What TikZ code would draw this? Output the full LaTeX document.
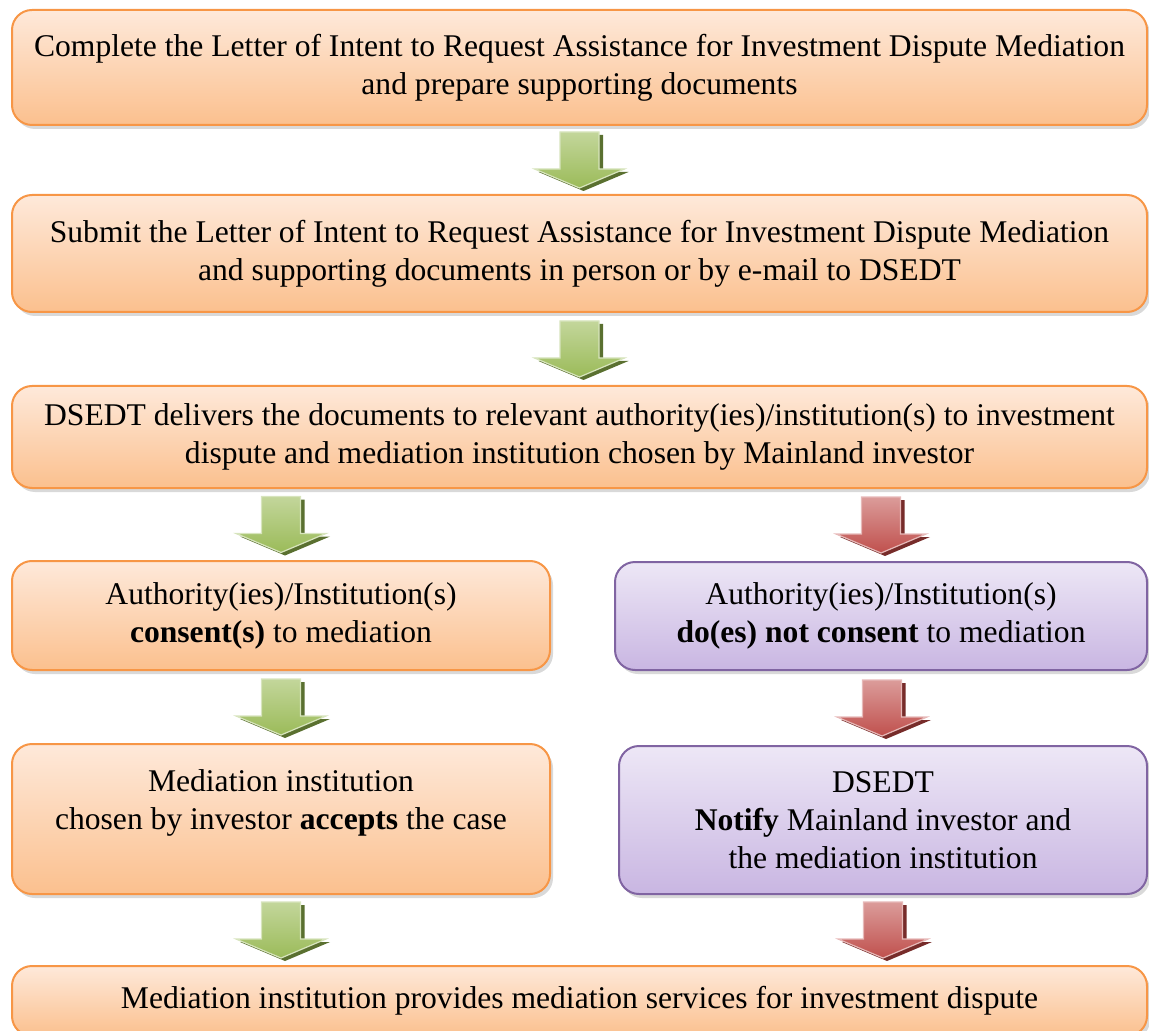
\documentclass[tikz,border=0pt]{standalone}
\usepackage{fontspec}
\setmainfont{Liberation Serif}
\usetikzlibrary{calc,shadows}

\definecolor{orangeline}{HTML}{F79646}
\definecolor{orangetop}{HTML}{FEE9DA}
\definecolor{orangebot}{HTML}{FBC08E}
\definecolor{purpleline}{HTML}{8064A2}
\definecolor{purpletop}{HTML}{EDE7F6}
\definecolor{purplebot}{HTML}{C9B6E2}
\definecolor{greentop}{HTML}{C3D69B}
\definecolor{greenbot}{HTML}{9BBB59}
\definecolor{greenedge}{HTML}{D7E4BD}
\definecolor{greenshade}{HTML}{5A7030}
\definecolor{redtop}{HTML}{DB9C9A}
\definecolor{redbot}{HTML}{C0504D}
\definecolor{rededge}{HTML}{E6B9B8}
\definecolor{redshade}{HTML}{772C2A}

\tikzset{
  stepbox/.style={rounded corners=10pt, line width=1pt, align=center, inner sep=2pt,
    font=\fontsize{15.8}{19}\selectfont,
    drop shadow={opacity=0.3, shadow xshift=1.5pt, shadow yshift=-2pt}},
  orangebox/.style={stepbox, draw=orangeline, top color=orangetop, bottom color=orangebot},
  purplebox/.style={stepbox, draw=purpleline, top color=purpletop, bottom color=purplebot},
  greenbody/.style={top color=greentop, bottom color=greenbot, draw=greenedge, line width=0.6pt},
  greendark/.style={fill=greenshade},
  redbody/.style={top color=redtop, bottom color=redbot, draw=rededge, line width=0.6pt},
  reddark/.style={fill=redshade},
  pics/blockarrow/.style={code={
    \fill[#1dark, shift={(4,3)}] (-19.5,-28) -- (19.5,-28) -- (19.5,9) -- (45,9)
      -- (0,28) -- (-45,9) -- (-19.5,9) -- cycle;
    \shade[#1body] (-19.5,-28) -- (19.5,-28) -- (19.5,9) -- (45,9)
      -- (0,28) -- (-45,9) -- (-19.5,9) -- cycle;
  }}
}

\begin{document}
\begin{tikzpicture}[x=0.5pt, y=-0.5pt]
  \useasboundingbox (0,0) rectangle (1149,1031);
  \clip (0,0) rectangle (1149,1031);
  % the common steps
  \node[orangebox, minimum width=567.5pt, minimum height=57.5pt] (complete) at (579.5,67.5)
    {Complete the Letter of Intent to Request Assistance for Investment Dispute Mediation\\and prepare supporting documents};
  \node[orangebox, minimum width=567.5pt, minimum height=58.5pt] (submit) at (579.5,253.5)
    {Submit the Letter of Intent to Request Assistance for Investment Dispute Mediation\\and supporting documents in person or by e-mail to DSEDT};
  \node[orangebox, minimum width=567.5pt, minimum height=51pt] (deliver) at (579.5,437)
    {DSEDT delivers the documents to relevant authority(ies)/institution(s) to investment\\dispute and mediation institution chosen by Mainland investor};
  % the two branches
  \node[orangebox, minimum width=269pt, minimum height=54.5pt] (consent) at (281,615.5)
    {Authority(ies)/Institution(s)\\\textbf{consent(s)} to mediation};
  \node[purplebox, minimum width=266pt, minimum height=54pt] (refuse) at (881,616)
    {Authority(ies)/Institution(s)\\\textbf{do(es) not consent} to mediation};
  \node[orangebox, minimum width=269pt, minimum height=75pt] (accept) at (281,819)
    {Mediation institution\\chosen by investor \textbf{accepts} the case\\\mbox{}};
  \node[purplebox, minimum width=264pt, minimum height=74pt] (notify) at (883,820)
    {DSEDT\\\textbf{Notify} Mainland investor and\\the mediation institution};
  % the last step
  \node[orangebox, minimum width=567.5pt, minimum height=35pt] (provide) at (579.5,1001)
    {Mediation institution provides mediation services for investment dispute};
  % arrows between the steps
  \pic at ($(complete.south)!0.5!(submit.north)$) {blockarrow=green};
  \pic at ($(submit.south)!0.5!(deliver.north)$) {blockarrow=green};
  \pic at ($(consent.north |- deliver.south)!0.5!(consent.north)$) {blockarrow=green};
  \pic at ($(refuse.north |- deliver.south)!0.5!(refuse.north)$) {blockarrow=red};
  \pic at ($(consent.south)!0.5!(accept.north)$) {blockarrow=green};
  \pic at ($(refuse.south)!0.5!(notify.north)$) {blockarrow=red};
  \pic at ($(accept.south)!0.5!(accept.south |- provide.north)$) {blockarrow=green};
  \pic at ($(notify.south)!0.5!(notify.south |- provide.north)$) {blockarrow=red};
\end{tikzpicture}
\end{document}
